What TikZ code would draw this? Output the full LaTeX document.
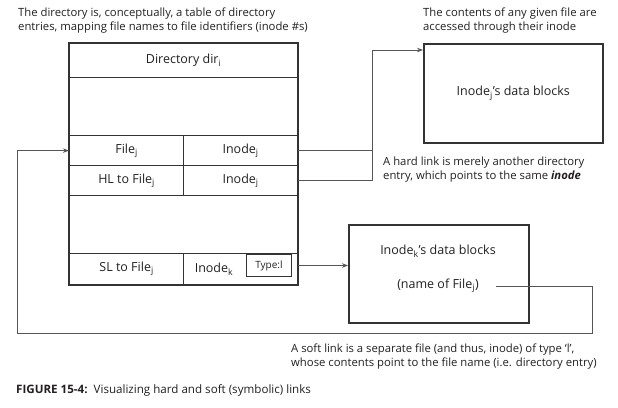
\documentclass[tikz,border=0pt]{standalone}
\usepackage{fontspec}
\setmainfont{Open Sans}
\usetikzlibrary{arrows.meta,calc}
\definecolor{ink}{HTML}{231F20}
\definecolor{lin}{HTML}{333333}
\definecolor{conncol}{HTML}{555555}
\begin{document}
\begin{tikzpicture}[x=1pt,y=-1pt,
  font=\fontsize{11.3}{13.5}\selectfont, text=ink,
  cellbox/.style n args={2}{draw=lin, line width=1.2pt, inner sep=0pt, anchor=north west,
     minimum width=#1, minimum height=#2, font=\fontsize{12.5}{14}\selectfont},
  blockbox/.style n args={2}{draw=lin, line width=1.6pt, inner sep=0pt, anchor=north west,
     minimum width=#1, minimum height=#2, font=\fontsize{12.5}{14}\selectfont},
  big/.style={inner sep=0pt, font=\fontsize{12.5}{14}\selectfont},
  note/.style={align=left, anchor=north west, inner sep=0pt},
  conn/.style={draw=conncol, line width=0.9pt},
  tip/.style={-{Stealth[length=6pt,width=4.5pt]}}]
\useasboundingbox (0,0) rectangle (618,407);

% notes
\node[note] (n1) at (18,8) {The directory is, conceptually, a table of directory\\entries, mapping file names to file identifiers (inode \#s)};
\node[note] (n2) at (423,8) {The contents of any given file are\\accessed through their inode};
\node[note] (n3) at (383,157) {A hard link is merely another directory\\entry, which points to the same \textbf{\textit{inode}}};
\node[note] (n4) at (291,344) {A soft link is a separate file (and thus, inode) of type `l',\\whose contents point to the file name (i.e. directory entry)};
\node[note, font=\fontsize{11.6}{13.5}\selectfont] (cap) at (16,384) {\textbf{FIGURE 15-4:}\ \ Visualizing hard and soft (symbolic) links};

% directory table
\node[cellbox={228pt}{34pt}] (hdr) at (69,43) {Directory dir\textsubscript{i}};
\node[cellbox={228pt}{58pt}] (e1) at (69,77) {};
\node[cellbox={114pt}{30pt}] (filej) at (69,135) {File\textsubscript{j}};
\node[cellbox={114pt}{30pt}] (inj1) at (183,135) {Inode\textsubscript{j}};
\node[cellbox={114pt}{30pt}] (hl) at (69,165) {HL to File\textsubscript{j}};
\node[cellbox={114pt}{30pt}] (inj2) at (183,165) {Inode\textsubscript{j}};
\node[cellbox={228pt}{58pt}] (e2) at (69,195) {};
\node[cellbox={114pt}{31pt}] (sl) at (69,253) {SL to File\textsubscript{j}};
\node[cellbox={114pt}{31pt}] (ink) at (183,253) {};
\node[big] (inktext) at (214,269) {Inode\textsubscript{k}};
\node[draw=lin, line width=1pt, inner sep=0pt, anchor=north west, minimum width=45pt, minimum height=22pt,
      font=\fontsize{10}{11}\selectfont] (typel) at (246,254) {Type:l};
\draw[draw=lin, line width=1.8pt] (hdr.north west) rectangle (ink.south east);

% data blocks
\node[blockbox={179pt}{99pt}] (bj) at (423,43) {Inode\textsubscript{j}'s data blocks};
\node[blockbox={180pt}{98pt}] (bk) at (348,224) {};
\node[big] (bkt) at (438,251) {Inode\textsubscript{k}'s data blocks};
\node[big] (namek) at (438,286) {(name of File\textsubscript{j})};

% hard link connectors
\coordinate (jtop) at (372,50);
\coordinate (jend) at (423,50);
\draw[conn] (inj1.east) -- (inj1.east -| jtop);
\draw[conn, tip] (inj2.east) -| (jtop) -- (jend);

% soft link connector
\draw[conn, tip] (typel.east -| ink.east) -- (typel.east -| bk.west);

% back to file name
\coordinate (nstart) at (496,286);
\coordinate (rb) at (592,333);
\coordinate (lb) at (17,333);
\draw[conn, tip] (nstart) -| (rb) -- (lb) |- (filej.west);
\end{tikzpicture}
\end{document}
